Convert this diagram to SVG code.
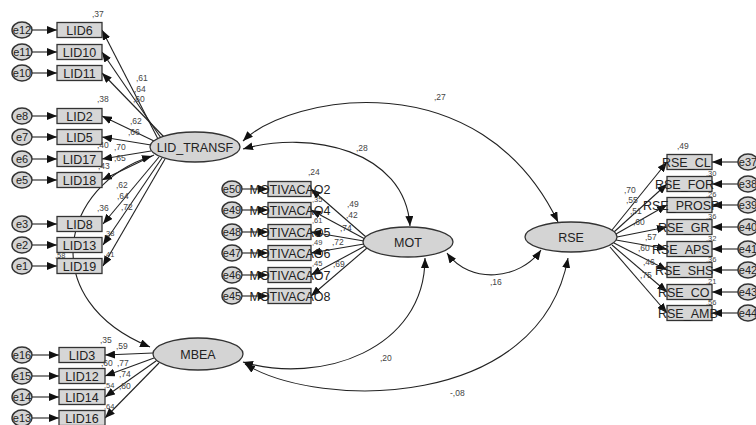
<svg xmlns="http://www.w3.org/2000/svg" width="756" height="425" viewBox="0 0 756 425">
<defs>
<style>
.box{fill:#d6d6d6;stroke:#333;stroke-width:1.3}
.lat{fill:#d4d4d4;stroke:#333;stroke-width:1.3}
.err{fill:#d4d4d4;stroke:#333;stroke-width:1.4}
.t{font-family:"Liberation Sans",Arial,sans-serif;font-size:12.5px;fill:#222;text-anchor:middle}
.ts{font-family:"Liberation Sans",Arial,sans-serif;font-size:12.5px;fill:#222;text-anchor:start}
.et{font-family:"Liberation Sans",Arial,sans-serif;font-size:11px;fill:#222;text-anchor:middle}
.c{font-family:"Liberation Sans",Arial,sans-serif;font-size:8.5px;fill:#444}
.r{font-size:7.5px}
.ln{stroke:#222;stroke-width:1.1;fill:none;marker-end:url(#a)}
.cv{stroke:#222;stroke-width:1.1;fill:none;marker-end:url(#a);marker-start:url(#a)}
</style>
<marker id="a" viewBox="0 0 10 8" refX="10" refY="4" markerWidth="10" markerHeight="8" markerUnits="userSpaceOnUse" orient="auto-start-reverse"><path d="M0,0 L10,4 L0,8 z" fill="#111"/></marker>
</defs>
<rect width="756" height="425" fill="#fff"/>

<g id="connectors">
<line class="ln" x1="32" y1="30" x2="57" y2="30"/>
<line class="ln" x1="32" y1="52" x2="57" y2="52"/>
<line class="ln" x1="32" y1="73" x2="57" y2="73"/>
<line class="ln" x1="32" y1="116" x2="57" y2="116"/>
<line class="ln" x1="32" y1="137" x2="57" y2="137"/>
<line class="ln" x1="32" y1="159" x2="57" y2="159"/>
<line class="ln" x1="32" y1="180" x2="57" y2="180"/>
<line class="ln" x1="32" y1="224" x2="57" y2="224"/>
<line class="ln" x1="32" y1="245" x2="57" y2="245"/>
<line class="ln" x1="32" y1="266" x2="57" y2="266"/>
<line class="ln" x1="32" y1="355" x2="59" y2="355"/>
<line class="ln" x1="32" y1="376" x2="59" y2="376"/>
<line class="ln" x1="32" y1="397" x2="59" y2="397"/>
<line class="ln" x1="32" y1="418" x2="59" y2="418"/>
<line class="ln" x1="242" y1="189" x2="268" y2="189"/>
<line class="ln" x1="242" y1="210" x2="268" y2="210"/>
<line class="ln" x1="242" y1="232" x2="268" y2="232"/>
<line class="ln" x1="242" y1="253" x2="268" y2="253"/>
<line class="ln" x1="242" y1="275" x2="268" y2="275"/>
<line class="ln" x1="242" y1="296" x2="268" y2="296"/>
<line class="ln" x1="738" y1="162" x2="712" y2="162"/>
<line class="ln" x1="738" y1="184" x2="712" y2="184"/>
<line class="ln" x1="738" y1="205" x2="712" y2="205"/>
<line class="ln" x1="738" y1="227" x2="712" y2="227"/>
<line class="ln" x1="738" y1="249" x2="712" y2="249"/>
<line class="ln" x1="738" y1="270" x2="712" y2="270"/>
<line class="ln" x1="738" y1="292" x2="712" y2="292"/>
<line class="ln" x1="738" y1="313" x2="712" y2="313"/>
<line class="ln" x1="158" y1="139" x2="102" y2="30"/>
<line class="ln" x1="161" y1="138" x2="102" y2="52"/>
<line class="ln" x1="164" y1="137" x2="102" y2="73"/>
<line class="ln" x1="154" y1="141" x2="102" y2="116"/>
<line class="ln" x1="151" y1="145" x2="102" y2="137"/>
<line class="ln" x1="151" y1="151" x2="102" y2="159"/>
<line class="ln" x1="154" y1="155" x2="102" y2="180"/>
<line class="ln" x1="159" y1="157" x2="103" y2="224"/>
<line class="ln" x1="162" y1="158" x2="103" y2="245"/>
<line class="ln" x1="165" y1="159" x2="103" y2="266"/>
<line class="ln" x1="153" y1="353" x2="105" y2="355"/>
<line class="ln" x1="154" y1="358" x2="105" y2="376"/>
<line class="ln" x1="156" y1="361" x2="105" y2="397"/>
<line class="ln" x1="159" y1="363" x2="105" y2="418"/>
<line class="ln" x1="366" y1="237" x2="311" y2="189"/>
<line class="ln" x1="365" y1="239" x2="311" y2="210"/>
<line class="ln" x1="364" y1="241" x2="311" y2="232"/>
<line class="ln" x1="364" y1="244" x2="311" y2="253"/>
<line class="ln" x1="365" y1="246" x2="311" y2="275"/>
<line class="ln" x1="367" y1="248" x2="311" y2="296"/>
<line class="ln" x1="612" y1="230" x2="667" y2="162"/>
<line class="ln" x1="614" y1="232" x2="667" y2="184"/>
<line class="ln" x1="616" y1="234" x2="667" y2="205"/>
<line class="ln" x1="617" y1="237" x2="667" y2="227"/>
<line class="ln" x1="616" y1="240" x2="667" y2="249"/>
<line class="ln" x1="614" y1="243" x2="667" y2="270"/>
<line class="ln" x1="612" y1="245" x2="667" y2="292"/>
<line class="ln" x1="610" y1="247" x2="667" y2="313"/>
<path class="cv" d="M243,141 C290,95 480,60 558,222"/>
<path class="cv" d="M243,149 C310,130 405,150 410,226"/>
<path class="cv" d="M447,253 C470,285 520,280 541,250"/>
<path class="cv" d="M243,362 C320,385 425,350 425,258"/>
<path class="cv" d="M245,364 C320,410 540,410 568,258"/>
<path class="cv" d="M152,156 C60,185 35,300 150,347"/>
</g>

<g id="LID6"><ellipse class="err" cx="22" cy="30" rx="10" ry="8"/><text class="et" x="22" y="34">e12</text><rect class="box" x="57" y="22.5" width="45" height="15"/><text class="t" x="79.5" y="34.5">LID6</text></g>
<g id="LID10"><ellipse class="err" cx="22" cy="52" rx="10" ry="8"/><text class="et" x="22" y="56">e11</text><rect class="box" x="57" y="44.5" width="45" height="15"/><text class="t" x="79.5" y="56.5">LID10</text></g>
<g id="LID11"><ellipse class="err" cx="22" cy="73" rx="10" ry="8"/><text class="et" x="22" y="77">e10</text><rect class="box" x="57" y="65.5" width="45" height="15"/><text class="t" x="79.5" y="77.5">LID11</text></g>
<g id="LID2"><ellipse class="err" cx="22" cy="116" rx="10" ry="8"/><text class="et" x="22" y="120">e8</text><rect class="box" x="57" y="108.5" width="45" height="15"/><text class="t" x="79.5" y="120.5">LID2</text></g>
<g id="LID5"><ellipse class="err" cx="22" cy="137" rx="10" ry="8"/><text class="et" x="22" y="141">e7</text><rect class="box" x="57" y="129.5" width="45" height="15"/><text class="t" x="79.5" y="141.5">LID5</text></g>
<g id="LID17"><ellipse class="err" cx="22" cy="159" rx="10" ry="8"/><text class="et" x="22" y="163">e6</text><rect class="box" x="57" y="151.5" width="45" height="15"/><text class="t" x="79.5" y="163.5">LID17</text></g>
<g id="LID18"><ellipse class="err" cx="22" cy="180" rx="10" ry="8"/><text class="et" x="22" y="184">e5</text><rect class="box" x="57" y="172.5" width="45" height="15"/><text class="t" x="79.5" y="184.5">LID18</text></g>
<g id="LID8"><ellipse class="err" cx="22" cy="224" rx="10" ry="8"/><text class="et" x="22" y="228">e3</text><rect class="box" x="57" y="216.5" width="45" height="15"/><text class="t" x="79.5" y="228.5">LID8</text></g>
<g id="LID13"><ellipse class="err" cx="22" cy="245" rx="10" ry="8"/><text class="et" x="22" y="249">e2</text><rect class="box" x="57" y="237.5" width="45" height="15"/><text class="t" x="79.5" y="249.5">LID13</text></g>
<g id="LID19"><ellipse class="err" cx="22" cy="266" rx="10" ry="8"/><text class="et" x="22" y="270">e1</text><rect class="box" x="57" y="258.5" width="45" height="15"/><text class="t" x="79.5" y="270.5">LID19</text></g>
<g id="LID3"><ellipse class="err" cx="22" cy="355" rx="10" ry="8"/><text class="et" x="22" y="359">e16</text><rect class="box" x="59" y="347.5" width="46" height="15"/><text class="t" x="82" y="359.5">LID3</text></g>
<g id="LID12"><ellipse class="err" cx="22" cy="376" rx="10" ry="8"/><text class="et" x="22" y="380">e15</text><rect class="box" x="59" y="368.5" width="46" height="15"/><text class="t" x="82" y="380.5">LID12</text></g>
<g id="LID14"><ellipse class="err" cx="22" cy="397" rx="10" ry="8"/><text class="et" x="22" y="401">e14</text><rect class="box" x="59" y="389.5" width="46" height="15"/><text class="t" x="82" y="401.5">LID14</text></g>
<g id="LID16"><ellipse class="err" cx="22" cy="418" rx="10" ry="8"/><text class="et" x="22" y="422">e13</text><rect class="box" x="59" y="410.5" width="46" height="15"/><text class="t" x="82" y="422.5">LID16</text></g>

<g id="MOTIVACAO2"><ellipse class="err" cx="232" cy="189" rx="10" ry="8"/><text class="et" x="232" y="193">e50</text><rect class="box" x="268" y="181.5" width="43" height="15"/><text class="t" x="290" y="193.5">MOTIVACAO2</text></g>
<g id="MOTIVACAO4"><ellipse class="err" cx="232" cy="210" rx="10" ry="8"/><text class="et" x="232" y="214">e49</text><rect class="box" x="268" y="202.5" width="43" height="15"/><text class="t" x="290" y="214.5">MOTIVACAO4</text></g>
<g id="MOTIVACAO5"><ellipse class="err" cx="232" cy="232" rx="10" ry="8"/><text class="et" x="232" y="236">e48</text><rect class="box" x="268" y="224.5" width="43" height="15"/><text class="t" x="290" y="236.5">MOTIVACAO5</text></g>
<g id="MOTIVACAO6"><ellipse class="err" cx="232" cy="253" rx="10" ry="8"/><text class="et" x="232" y="257">e47</text><rect class="box" x="268" y="245.5" width="43" height="15"/><text class="t" x="290" y="257.5">MOTIVACAO6</text></g>
<g id="MOTIVACAO7"><ellipse class="err" cx="232" cy="275" rx="10" ry="8"/><text class="et" x="232" y="279">e46</text><rect class="box" x="268" y="267.5" width="43" height="15"/><text class="t" x="290" y="279.5">MOTIVACAO7</text></g>
<g id="MOTIVACAO8"><ellipse class="err" cx="232" cy="296" rx="10" ry="8"/><text class="et" x="232" y="300">e45</text><rect class="box" x="268" y="288.5" width="43" height="15"/><text class="t" x="290" y="300.5">MOTIVACAO8</text></g>

<g id="RSE_CL"><rect class="box" x="667" y="154.5" width="45" height="15"/><text class="ts" x="662" y="166.5">RSE_CL</text><ellipse class="err" cx="748" cy="162" rx="10" ry="8"/><text class="et" x="748" y="166">e37</text></g>
<g id="RSE_FOR"><rect class="box" x="667" y="176.5" width="45" height="15"/><text class="ts" x="655" y="188.5">RSE_FOR</text><ellipse class="err" cx="748" cy="184" rx="10" ry="8"/><text class="et" x="748" y="188">e38</text></g>
<g id="RSE_PROSP"><rect class="box" x="667" y="197.5" width="45" height="15"/><text class="ts" x="643" y="209.5">RSE_PROSP</text><ellipse class="err" cx="748" cy="205" rx="10" ry="8"/><text class="et" x="748" y="209">e39</text></g>
<g id="RSE_GR"><rect class="box" x="667" y="219.5" width="45" height="15"/><text class="ts" x="658" y="231.5">RSE_GR</text><ellipse class="err" cx="748" cy="227" rx="10" ry="8"/><text class="et" x="748" y="231">e40</text></g>
<g id="RSE_APS"><rect class="box" x="667" y="241.5" width="45" height="15"/><text class="ts" x="652" y="253.5">RSE_APS</text><ellipse class="err" cx="748" cy="249" rx="10" ry="8"/><text class="et" x="748" y="253">e41</text></g>
<g id="RSE_SHS"><rect class="box" x="667" y="262.5" width="45" height="15"/><text class="ts" x="655" y="274.5">RSE_SHS</text><ellipse class="err" cx="748" cy="270" rx="10" ry="8"/><text class="et" x="748" y="274">e42</text></g>
<g id="RSE_CO"><rect class="box" x="667" y="284.5" width="45" height="15"/><text class="ts" x="658" y="296.5">RSE_CO</text><ellipse class="err" cx="748" cy="292" rx="10" ry="8"/><text class="et" x="748" y="296">e43</text></g>
<g id="RSE_AMB"><rect class="box" x="667" y="305.5" width="45" height="15"/><text class="ts" x="658" y="317.5">RSE_AMB</text><ellipse class="err" cx="748" cy="313" rx="10" ry="8"/><text class="et" x="748" y="317">e44</text></g>

<g id="LID_TRANSF"><ellipse class="lat" cx="195" cy="147" rx="45" ry="15"/><text class="t" x="195" y="151.5">LID_TRANSF</text></g>
<g id="MBEA"><ellipse class="lat" cx="198" cy="354" rx="45" ry="16"/><text class="t" x="198" y="358.5">MBEA</text></g>
<g id="MOT"><ellipse class="lat" cx="408" cy="242" rx="45" ry="15"/><text class="t" x="408" y="246.5">MOT</text></g>
<g id="RSE"><ellipse class="lat" cx="571" cy="237" rx="46" ry="15"/><text class="t" x="571" y="241.5">RSE</text></g>

<g id="coefficients" class="c">
<text x="92" y="17">,37</text>
<text x="136" y="81">,61</text>
<text x="134" y="92">,64</text>
<text x="133" y="102">,60</text>
<text x="97" y="102">,38</text>
<text x="130" y="124">,62</text>
<text x="128" y="135">,66</text>
<text x="97" y="148">,40</text>
<text x="114" y="150">,70</text>
<text x="114" y="161">,65</text>
<text x="98" y="169">,43</text>
<text x="116" y="188">,62</text>
<text x="117" y="199">,64</text>
<text x="97" y="211">,36</text>
<text x="121" y="210">,72</text>
<text class="r" x="104" y="236">,38</text>
<text class="r" x="55" y="258">,58</text>
<text class="r" x="104" y="257">,41</text>
<text x="100" y="343">,35</text>
<text x="116" y="349">,59</text>
<text x="101" y="366">,60</text>
<text x="117" y="366">,77</text>
<text x="119" y="377">,74</text>
<text class="r" x="104" y="388">,54</text>
<text x="119" y="389">,80</text>
<text class="r" x="104" y="409">,64</text>
<text x="308" y="175">,24</text>
<text x="347" y="207">,49</text>
<text class="r" x="312" y="202">,35</text>
<text x="346" y="218">,42</text>
<text x="340" y="231">,74</text>
<text class="r" x="312" y="223">,61</text>
<text x="332" y="245">,72</text>
<text class="r" x="312" y="245">,49</text>
<text x="333" y="267">,69</text>
<text class="r" x="312" y="266">,45</text>
<text x="677" y="149">,49</text>
<text x="624" y="193">,70</text>
<text x="626" y="203">,55</text>
<text x="630" y="214">,51</text>
<text x="633" y="225">,60</text>
<text x="645" y="240">,57</text>
<text x="638" y="251">,60</text>
<text x="643" y="265">,46</text>
<text x="640" y="278">,75</text>
<text class="r" x="706" y="176">,30</text>
<text class="r" x="706" y="197">,26</text>
<text class="r" x="706" y="219">,36</text>
<text class="r" x="706" y="241">,32</text>
<text class="r" x="706" y="262">,36</text>
<text class="r" x="706" y="284">,21</text>
<text class="r" x="706" y="305">,56</text>
<text x="434" y="100">,27</text>
<text x="356" y="151">,28</text>
<text x="490" y="285">,16</text>
<text x="380" y="361">,20</text>
<text x="450" y="396">-,08</text>
</g>
</svg>
